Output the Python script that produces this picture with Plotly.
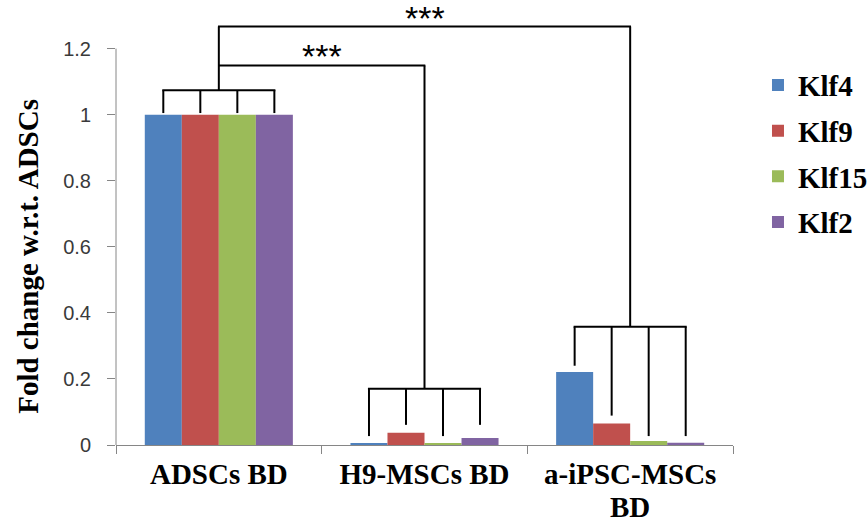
import plotly.graph_objects as go

# Cell types on the x axis and Klf genes as the bar series
groups = ["ADSCs BD", "H9-MSCs BD", "a-iPSC-MSCs BD"]
group_ticktext = ["ADSCs BD", "H9-MSCs BD", "a-iPSC-MSCs"]
genes = ["Klf4", "Klf9", "Klf15", "Klf2"]
colors = ["#4F81BD", "#C0504D", "#9BBB59", "#8064A2"]

klf4 = [1.0, 0.004, 0.221]
klf9 = [1.0, 0.037, 0.065]
klf15 = [1.0, 0.005, 0.012]
klf2 = [1.0, 0.021, 0.007]
values = [klf4, klf9, klf15, klf2]

y_ticks = [0, 0.2, 0.4, 0.6, 0.8, 1.0, 1.2]
y_ticktext = ["0", "0.2", "0.4", "0.6", "0.8", "1", "1.2"]

# Significance brackets: foot heights over each bar, bar height of the group
# bracket, and the height of the comparison bars
foot_tops = [[1.005, 1.005, 1.005, 1.005],
             [0.027, 0.061, 0.027, 0.061],
             [0.240, 0.089, 0.027, 0.027]]
group_bracket_y = [1.074, 0.170, 0.358]
comparisons = [(0, 1, 1.149, "***"), (0, 2, 1.267, "***")]

GROUP_WIDTH = 0.72
BAR_W = GROUP_WIDTH / len(genes)
LINE = dict(color="black", width=2)
AXIS_GRAY = "#868686"
SERIF_BOLD = dict(family="Liberation Serif, Times New Roman, serif", size=29,
                  color="black", weight="bold")

fig = go.Figure()
for name, vals, col in zip(genes, values, colors):
    fig.add_trace(go.Bar(
        x=groups, y=vals, name=name, legendgroup=name,
        marker=dict(color=col, line=dict(width=0)),
    ))

shapes = []
# y axis line (stops at the top tick)
shapes.append(dict(type="line", xref="paper", yref="y", x0=0, x1=0, y0=0, y1=1.2,
                   line=dict(color=AXIS_GRAY, width=1)))

def bar_center(g, i):
    return g + (i - (len(genes) - 1) / 2) * BAR_W

for g in range(len(groups)):
    yb = group_bracket_y[g]
    for i in range(len(genes)):
        xc = bar_center(g, i)
        shapes.append(dict(type="line", xref="x", yref="y", x0=xc, x1=xc,
                           y0=foot_tops[g][i], y1=yb, line=LINE))
    shapes.append(dict(type="line", xref="x", yref="y", x0=bar_center(g, 0) - 0.005,
                       x1=bar_center(g, len(genes) - 1) + 0.005, y0=yb, y1=yb, line=LINE))

stem_top = {}
for a, b, h, _ in comparisons:
    stem_top[a] = max(stem_top.get(a, 0), h)
    stem_top[b] = max(stem_top.get(b, 0), h)
for g, top in stem_top.items():
    shapes.append(dict(type="line", xref="x", yref="y", x0=g, x1=g,
                       y0=group_bracket_y[g], y1=top, line=LINE))

annotations = []
for a, b, h, label in comparisons:
    shapes.append(dict(type="line", xref="x", yref="y", x0=a - 0.004, x1=b + 0.004,
                       y0=h, y1=h, line=LINE))
    annotations.append(dict(x=(a + b) / 2, y=h, xref="x", yref="y", text=label,
                            showarrow=False, yanchor="bottom", yshift=-12,
                            font=dict(family="Liberation Sans", size=34, color="black")))

# second line of the last category label
annotations.append(dict(x=2, y=0, xref="x", yref="paper", text="BD", showarrow=False,
                        yanchor="top", yshift=-44, font=SERIF_BOLD))

# y axis title
annotations.append(dict(x=-0.144, y=0.432, xref="paper", yref="paper",
                        text="Fold change w.r.t. ADSCs", textangle=-90, showarrow=False,
                        xanchor="center", yanchor="middle", font=SERIF_BOLD))

fig.update_layout(
    width=868, height=522,
    margin=dict(l=116, r=135, t=9, b=77, autoexpand=False),
    paper_bgcolor="white", plot_bgcolor="white",
    barmode="group", bargap=1 - GROUP_WIDTH, bargroupgap=0,
    shapes=shapes, annotations=annotations,
    showlegend=True,
    legend=dict(x=1.0405, y=0.884, xanchor="left", yanchor="top", font=SERIF_BOLD,
                tracegroupgap=5, bgcolor="rgba(0,0,0,0)"),
    xaxis=dict(type="category", tickson="boundaries", ticks="outside", ticklen=8,
               tickcolor=AXIS_GRAY, showline=True, linecolor=AXIS_GRAY, linewidth=1,
               showgrid=False, tickvals=groups, ticktext=group_ticktext,
               tickfont=SERIF_BOLD, ticklabelstandoff=3, range=[-0.5, 2.5]),
    yaxis=dict(range=[0, 1.32], tickvals=y_ticks, ticktext=y_ticktext,
               ticks="outside", ticklen=8, tickcolor=AXIS_GRAY, showline=False,
               showgrid=False, zeroline=False, ticklabelstandoff=12,
               tickfont=dict(family="Liberation Sans", size=20, color="#3a3a3a")),
)

fig.write_html("out.html")
